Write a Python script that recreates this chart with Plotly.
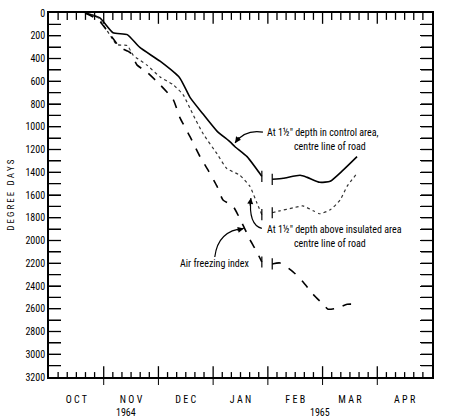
import plotly.graph_objects as go

# x = months since 1 Oct 1964 ; y = degree days
months = ["O C T", "N O V", "D E C", "J A N", "F E B", "M A R", "A P R"]
years = ["1964", "1965"]

ctrl_x1 = [0.66, 0.93, 1.17, 1.43, 1.66, 2.03, 2.39, 2.58, 2.82, 3.07, 3.31, 3.40, 3.62, 3.89]
ctrl_y1 = [0, 43, 173, 190, 303, 424, 571, 744, 891, 1038, 1133, 1176, 1263, 1436]
ctrl_x2 = [4.08, 4.28, 4.59, 4.72, 4.95, 5.14, 5.37, 5.63]
ctrl_y2 = [1462, 1453, 1427, 1445, 1488, 1479, 1384, 1263]

ins_x1 = [0.66, 0.90, 1.24, 1.43, 1.54, 1.79, 2.03, 2.27, 2.45, 2.63, 2.82, 3.07, 3.25, 3.49, 3.67, 3.80, 3.89]
ins_y1 = [0, 43, 277, 285, 372, 458, 562, 631, 718, 891, 1064, 1237, 1367, 1427, 1522, 1670, 1773]
ins_x2 = [4.08, 4.22, 4.46, 4.64, 4.83, 4.95, 5.14, 5.32, 5.45, 5.63]
ins_y2 = [1756, 1739, 1713, 1696, 1739, 1765, 1730, 1644, 1522, 1410]

air_x1 = [0.66, 0.90, 1.17, 1.30, 1.48, 1.61, 1.79, 2.03, 2.27, 2.39, 2.58, 2.76, 2.91, 3.07, 3.18, 3.36, 3.55, 3.67, 3.80, 3.89]
air_y1 = [0, 60, 225, 303, 346, 458, 519, 631, 761, 917, 1090, 1263, 1384, 1522, 1644, 1696, 1869, 1990, 2102, 2189]
air_x2 = [4.08, 4.22, 4.46, 4.64, 4.83, 5.01, 5.10, 5.27, 5.45, 5.63]
air_y2 = [2206, 2197, 2275, 2362, 2474, 2561, 2604, 2595, 2561, 2561]

FONT = "Liberation Sans Narrow, Roboto Condensed, DejaVu Sans Condensed, Arial Narrow, sans-serif"

W, H = 452, 420
ML, MR, MT, MB = 49, 20, 7, 43
XMIN, XMAX, YTOP, YBOT = 0, 7, 0, 3200
PX_X = (XMAX - XMIN) / (W - ML - MR)      # months per pixel
PX_Y = (YBOT - YTOP) / (H - MT - MB)      # degree days per pixel

fig = go.Figure()

mids = [i + 0.5 for i in range(7)]
bounds = list(range(8))
minors = [i / 6 for i in range(43) if i % 6 != 0]
yt = list(range(0, 3300, 100))
ytext = [str(v) if v % 200 == 0 else "" for v in yt]

# inside tick marks: line trace of short segments (None separated)
tx, ty = [], []
def seg(xa, ya, xb, yb):
    tx.extend([xa, xb, None]); ty.extend([ya, yb, None])
for v in minors:
    seg(v, YBOT, v, YBOT - 5 * PX_Y)
    seg(v, YTOP, v, YTOP + 7 * PX_Y)
for v in bounds[1:-1]:
    seg(v, YBOT, v, YBOT - 11 * PX_Y)
    seg(v, YTOP, v, YTOP + 11 * PX_Y)
for v in yt[1:-1]:
    seg(XMIN, v, XMIN + 12 * PX_X, v)
    seg(XMAX, v, XMAX - 11 * PX_X, v)
fig.add_trace(go.Scatter(x=tx, y=ty, mode="lines", line=dict(color="black", width=1.3, simplify=False),
                         showlegend=False, hoverinfo="skip", connectgaps=False))

def series(x1, y1, x2, y2, dash, width, color):
    for xs, ys in ((x1, y1), (x2, y2)):
        fig.add_trace(go.Scatter(x=xs, y=ys, mode="lines",
                                 line=dict(color=color, width=width, dash=dash, shape="spline", smoothing=0.5),
                                 showlegend=False, hoverinfo="skip"))
    # break markers at the ends of the gap
    fig.add_trace(go.Scatter(x=[x1[-1], x2[0]], y=[y1[-1], y2[0]], mode="markers",
                             marker=dict(symbol="line-ns-open", size=8, color="black",
                                         line=dict(color="black", width=1.2)),
                             showlegend=False, hoverinfo="skip"))

series(ctrl_x1, ctrl_y1, ctrl_x2, ctrl_y2, "solid", 1.6, "black")
series(ins_x1, ins_y1, ins_x2, ins_y2, "dot", 1.2, "#333")
series(air_x1, air_y1, air_x2, air_y2, "dash", 1.6, "black")

fig.update_layout(
    width=W, height=H, margin=dict(l=ML, r=MR, t=MT, b=MB),
    paper_bgcolor="white", plot_bgcolor="white",
    font=dict(family=FONT, size=10, color="black"),
    xaxis=dict(range=[XMIN, XMAX], tickmode="array", tickvals=mids, ticktext=months, ticks="",
               showline=True, mirror=True, linecolor="black", linewidth=1.6, showgrid=False, zeroline=False,
               tickfont=dict(size=10), ticklabelstandoff=12, fixedrange=True),
    yaxis=dict(range=[YBOT, YTOP], tickmode="array", tickvals=yt, ticktext=ytext,
               ticks="inside", ticklen=12, tickwidth=1, tickcolor="black",
               showline=True, mirror="ticks", linecolor="black", linewidth=1.6,
               showgrid=False, zeroline=False, tickfont=dict(size=10), fixedrange=True),
)

# outside part of the month-boundary ticks
for v in bounds[1:-1]:
    fig.add_shape(type="line", xref="x", yref="paper", x0=v, x1=v, ysizemode="pixel", yanchor=0,
                  y0=-8, y1=0, line=dict(color="black", width=1), layer="above")

# year labels
fig.add_annotation(x=1.4, y=-0.097, xref="x", yref="paper", text=years[0], showarrow=False, font=dict(size=10), yanchor="middle")
fig.add_annotation(x=4.95, y=-0.097, xref="x", yref="paper", text=years[1], showarrow=False, font=dict(size=10), yanchor="middle")
# y title
fig.add_annotation(x=-0.1, y=0.5, xref="paper", yref="paper", text="D E G R E E   D A Y S", textangle=-90,
                   showarrow=False, font=dict(size=9), xanchor="center", yanchor="middle")

# text labels
txt = [
    (3.95, 1047, "At 1½\" depth in control area,"),
    (4.44, 1176, "centre line of road"),
    (3.95, 1903, "At 1½\" depth above insulated area"),
    (4.44, 2024, "centre line of road"),
    (2.36, 2206, "Air freezing index"),
]
for x, y, t in txt:
    fig.add_annotation(x=x, y=y, text=t, showarrow=False, xanchor="left", yanchor="middle", font=dict(size=10))

# curved leader lines
curves = [
    ((3.91, 1047), (3.58, 1021), (3.40, 1142)),
    ((3.89, 1894), (3.64, 1860), (3.69, 1626)),
    ((3.03, 2145), (3.09, 1912), (3.56, 1894)),
]
for (x0, y0), (cx, cy), (x1, y1) in curves:
    fig.add_shape(type="path", path=f"M {x0},{y0} Q {cx},{cy} {x1},{y1}", xref="x", yref="y",
                  line=dict(color="black", width=1.2))
heads = [((3.40, 1142), 5, -7), ((3.69, 1626), -1, 9), ((3.56, 1894), -8, 2)]
for (x, y), ax, ay in heads:
    fig.add_annotation(x=x, y=y, ax=ax, ay=ay, text="", showarrow=True, arrowhead=2, arrowsize=1, arrowwidth=1.2,
                       arrowcolor="black", standoff=0)

fig.write_html("out.html")
